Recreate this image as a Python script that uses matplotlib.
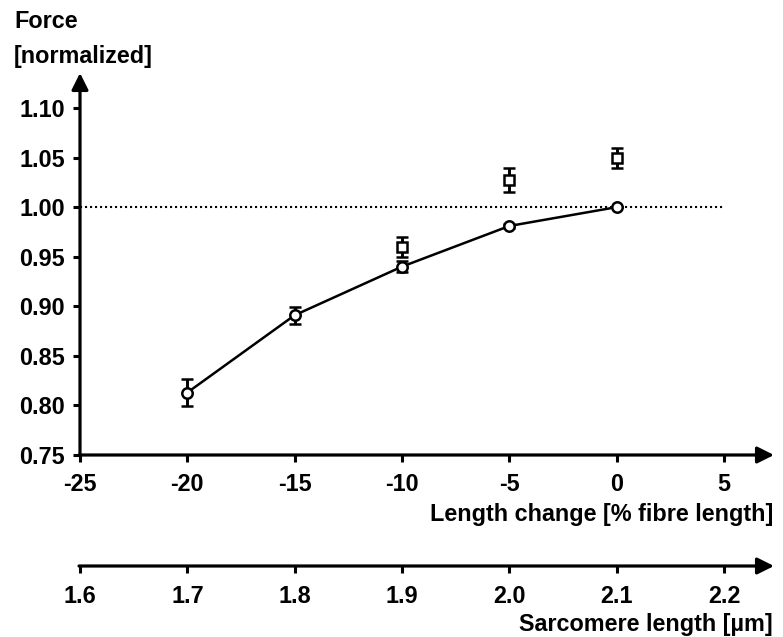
import matplotlib
matplotlib.use("Agg")
import matplotlib.pyplot as plt

# Data
length_change = [-20, -15, -10, -5, 0]
force_circle = [0.813, 0.891, 0.940, 0.981, 1.000]
err_circle = [0.014, 0.0085, 0.0055, 0.002, 0.0]
sq_x = [-10, -5, 0]
force_square = [0.960, 1.0275, 1.0495]
err_square = [0.010, 0.012, 0.010]

x_ticks = [-25, -20, -15, -10, -5, 0, 5]
y_ticks = [0.75, 0.80, 0.85, 0.90, 0.95, 1.00, 1.05, 1.10]
y_tick_labels = ["0.75", "0.80", "0.85", "0.90", "0.95", "1.00", "1.05", "1.10"]
sarc_ticks = [1.6, 1.7, 1.8, 1.9, 2.0, 2.1, 2.2]
sarc_labels = ["1.6", "1.7", "1.8", "1.9", "2.0", "2.1", "2.2"]

plt.rcParams['font.family'] = ['Liberation Sans', 'DejaVu Sans']
plt.rcParams['font.weight'] = 'bold'

FS = 16.8
W, H = 783, 637
fig = plt.figure(figsize=(W/100, H/100), dpi=100)

def fx(px):
    return px / W

def fy(py):
    return 1 - py / H

left, right = 80, 724
top, bottom = 108, 455
ax = fig.add_axes([fx(left), fy(bottom), fx(right) - fx(left), fy(top) - fy(bottom)])
ax.set_xlim(-25, 5)
ax.set_ylim(0.75, 1.10)
for s in ax.spines.values():
    s.set_visible(False)

ax.axhline(1.0, color='black', lw=1.5, ls=(0, (1, 1.4)), zorder=1)

ax.errorbar(length_change, force_circle, yerr=err_circle, color='black', lw=1.8,
            marker='o', ms=7.5, mfc='white', mec='black', mew=1.8,
            capsize=4.2, capthick=2.1, elinewidth=2.1, zorder=3)
ax.errorbar(sq_x, force_square, yerr=err_square, color='black', ls='none',
            marker='s', ms=6.5, mfc='white', mec='black', mew=1.8,
            capsize=4.2, capthick=2.1, elinewidth=2.1, zorder=3)

ax.set_xticks(x_ticks)
ax.set_xticklabels([str(v) for v in x_ticks])
ax.set_yticks(y_ticks)
ax.set_yticklabels(y_tick_labels)
ax.tick_params(axis='both', direction='out', length=5, width=2.2, labelsize=FS)
ax.tick_params(axis='y', pad=6)
ax.tick_params(axis='x', pad=8)
for lab in ax.get_xticklabels() + ax.get_yticklabels():
    lab.set_fontweight('bold')

arrow_style = dict(arrowstyle='-|>,head_length=1.0,head_width=0.5', lw=2.3, color='black',
                   shrinkA=0, shrinkB=0)
# x axis arrow
ax.annotate('', xy=(774, H - bottom), xytext=(left - 1, H - bottom), xycoords='figure pixels',
            textcoords='figure pixels', annotation_clip=False, arrowprops=arrow_style)
# y axis arrow
ax.annotate('', xy=(left, H - 73), xytext=(left, H - bottom - 1), xycoords='figure pixels',
            textcoords='figure pixels', annotation_clip=False, arrowprops=arrow_style)

fig.text(fx(773), fy(514), "Length change [% fibre length]", ha='right', va='center',
         fontsize=FS, fontweight='bold')

# Second axis
ax2_y = 566
ax2 = fig.add_axes([fx(left), fy(ax2_y), fx(right) - fx(left), 0.0001])
ax2.set_xlim(1.6, 2.2)
ax2.set_ylim(0, 1)
for s in ax2.spines.values():
    s.set_visible(False)
ax2.set_yticks([])
ax2.set_xticks(sarc_ticks)
ax2.set_xticklabels(sarc_labels)
ax2.tick_params(axis='x', direction='out', length=5, width=2.2, labelsize=FS, pad=8.5)
for lab in ax2.get_xticklabels():
    lab.set_fontweight('bold')
ax2.annotate('', xy=(774, H - ax2_y), xytext=(left - 1, H - ax2_y), xycoords='figure pixels',
             textcoords='figure pixels', annotation_clip=False, arrowprops=arrow_style)
fig.text(fx(773), fy(625), "Sarcomere length [\u00b5m]", ha='right', va='center',
         fontsize=FS, fontweight='bold')

fig.text(fx(14), fy(22), "Force", ha='left', va='center', fontsize=FS, fontweight='bold')
fig.text(fx(14), fy(57), "[normalized]", ha='left', va='center', fontsize=FS, fontweight='bold')

fig.savefig("out.png", dpi=100)
